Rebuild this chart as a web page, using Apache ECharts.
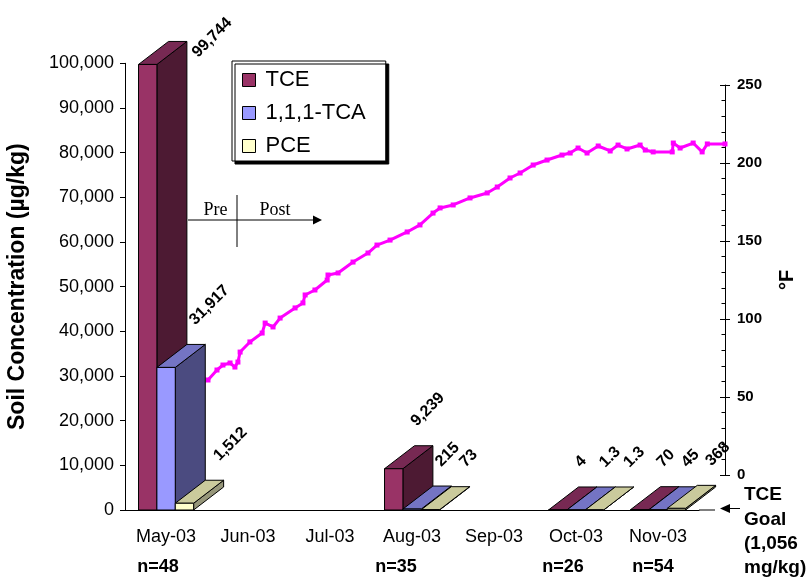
<!DOCTYPE html>
<html><head><meta charset="utf-8">
<script src="https://cdn.jsdelivr.net/npm/echarts@6/dist/echarts.min.js"></script>
<style>html,body{margin:0;padding:0;background:#fff}#c{width:811px;height:578px}</style>
</head><body><div id="c"></div>
<script>
// ---------- data ----------
const categories = ['May-03','Jun-03','Jul-03','Aug-03','Sep-03','Oct-03','Nov-03'];
const seriesNames = ['TCE','1,1,1-TCA','PCE'];
const tceValues = [99744, null, null, 9239, null, 4, 70];
const tcaValues = [31917, null, null, 215, null, 1.3, 45];
const pceValues = [1512, null, null, 73, null, 1.3, 368];
const sampleCounts = ['n=48','n=35','n=26','n=54'];
const goalText = ['TCE','Goal','(1,056','mg/kg)'];
const tempDays = [0,3.3,5.5,8.1,9.9,11.0,11.8,15.4,19.9,21.0,23.9,26.5,32.0,34.9,35.7,39.3,43.8,44.1,47.8,53.3,58.8,62.1,66.9,73.2,77.9,82.7,85.3,90.1,96.3,102.6,106.3,111.0,114.7,119.5,124.6,130.1,133.1,136.0,139.3,143.4,147.8,150.7,154.0,158.8,160.7,163.6,170.6,171.0,173.5,178.3,181.6,183.5,190];
const tempValues = [60.9,67.3,70.5,71.8,69.2,72.4,78.8,85.3,91.0,97.4,94.9,100.6,107.1,110.3,115.4,118.6,125.0,128.2,129.5,136.5,142.3,147.4,150.6,155.8,160.3,167.9,171.2,173.1,177.6,180.8,184.6,190.4,193.6,198.7,201.9,205.1,206.4,209.6,206.4,210.9,207.7,211.5,209.0,211.5,208.3,207.1,207.1,212.8,209.6,212.8,207.1,212.2,212.2];

// ---------- styling ----------
const FONT = '"Liberation Sans", Arial, sans-serif';
const SERIF = '"Liberation Serif", "Times New Roman", serif';
const DX = 30, DY = -23;
const faceColors = [
  {front:'#993366', top:'#772953', side:'#4D1A33'},
  {front:'#9999FF', top:'#7474C4', side:'#4B4B80'},
  {front:'#FFFFCC', top:'#CACA9C', side:'#96967A'}
];
function fmt(v){
  const s = String(v).split('.');
  s[0] = s[0].replace(/\B(?=(\d{3})+(?!\d))/g, ',');
  return s.join('.');
}
function toData(arr){
  const out = [];
  arr.forEach((v,i)=>{ if(v!=null) out.push([i, v]); });
  return out;
}
function makeRender(si){
  return function(params, api){
    const cat = api.value(0), v = api.value(1);
    const base = api.coord([cat, 0]), top = api.coord([cat, v]);
    const band = api.size([1, 0])[0];
    const bw = band * 0.224;
    const x0 = base[0] - band * 0.335 + si * bw, x1 = x0 + bw;
    const yb = base[1], yt = top[1];
    const c = faceColors[si];
    let ax = (x0 + x1) / 2 + 20 + si * 6, ay = yt - 45;
    if (ay < 45) { ax = x1 + DX + 8; ay = 55; }
    return {type:'group', children:[
      {type:'polygon', shape:{points:[[x1,yt],[x1+DX,yt+DY],[x1+DX,yb+DY],[x1,yb]]}, style:{fill:c.side, stroke:'#000', lineWidth:1}},
      {type:'polygon', shape:{points:[[x0,yt],[x1,yt],[x1+DX,yt+DY],[x0+DX,yt+DY]]}, style:{fill:c.top, stroke:'#000', lineWidth:1}},
      {type:'rect', shape:{x:x0, y:yt, width:bw, height:Math.max(yb-yt,0)}, style:{fill:c.front, stroke:'#000', lineWidth:1}},
      {type:'text', x:ax, y:ay, rotation:Math.PI/4, z2:100, style:{text:fmt(v), fill:'#000', font:'bold 16px ' + FONT, align:'left', verticalAlign:'middle'}}
    ]};
  };
}
const barArrays = [tceValues, tcaValues, pceValues];

const nPos = [[158,567],[396,567],[563,567],[653,567]];

const chart = echarts.init(document.getElementById('c'), null, {renderer:'canvas'});
chart.setOption({
  animation:false,
  backgroundColor:'#fff',
  grid:[
    {left:125, right:112, top:63.3, bottom:68, outerBoundsMode:'none'},
    {left:208, right:86, top:85, bottom:103, outerBoundsMode:'none'},
    {left:208, right:86, top:85, bottom:103, outerBoundsMode:'none'}
  ],
  legend:{
    orient:'vertical', left:232, top:61, padding:[8,20,4,10], itemGap:11,
    itemWidth:13, itemHeight:13, icon:'rect', selectedMode:false,
    backgroundColor:'#fff', borderColor:'#000', borderWidth:1,
    shadowColor:'#000', shadowOffsetX:3, shadowOffsetY:3, shadowBlur:0,
    itemStyle:{borderColor:'#000', borderWidth:1},
    textStyle:{fontSize:22, fontFamily:FONT, color:'#000', padding:[0,0,0,5]},
    data:seriesNames
  },
  xAxis:[
    {type:'category', gridIndex:0, data:categories,
     axisLine:{onZero:false, lineStyle:{color:'#000', width:1}}, axisTick:{show:false},
     axisLabel:{color:'#000', fontSize:18, fontFamily:FONT, margin:18, interval:0}},
    {type:'value', gridIndex:1, min:0, max:190, show:false, axisLine:{onZero:false}},
    {type:'value', gridIndex:2, min:0, max:190, show:false, axisLine:{onZero:false}}
  ],
  yAxis:[
    {type:'value', gridIndex:0, min:0, max:100000, interval:10000,
     name:'Soil Concentration (µg/kg)', nameLocation:'middle', nameRotate:90, nameGap:96,
     nameTextStyle:{fontSize:23, fontWeight:'bold', fontFamily:FONT, color:'#000'},
     axisLine:{show:true, onZero:false, lineStyle:{color:'#000'}}, axisTick:{show:true, length:5, lineStyle:{color:'#000'}},
     splitLine:{show:false},
     axisLabel:{color:'#000', fontSize:18, fontFamily:FONT, margin:11, formatter:v=>fmt(v)}},
    {type:'value', gridIndex:1, position:'right', min:0, max:250, interval:50,
     name:'°F', nameLocation:'middle', nameRotate:90, nameGap:52,
     nameTextStyle:{fontSize:20, fontWeight:'bold', fontFamily:FONT, color:'#000'},
     axisLine:{show:true, onZero:false, lineStyle:{color:'#000'}},
     axisTick:{show:true, inside:true, length:5, lineStyle:{color:'#000'}},
     minorTick:{show:true, splitNumber:5, length:3.5, lineStyle:{color:'#000'}},
     splitLine:{show:false}, minorSplitLine:{show:false},
     axisLabel:{color:'#000', fontSize:15, fontWeight:'bold', fontFamily:FONT, margin:12}},
    {type:'value', gridIndex:2, position:'right', min:0, max:250, interval:50,
     axisLine:{show:false, onZero:false}, axisTick:{show:true, length:5, lineStyle:{color:'#000'}},
     axisLabel:{show:false}, splitLine:{show:false}}
  ],
  series:[
    {type:'line', name:'Temperature', xAxisIndex:1, yAxisIndex:1,
     data:tempDays.map((d,i)=>[d, tempValues[i]]),
     symbol:'rect', symbolSize:5, showSymbol:true,
     lineStyle:{color:'#FF00FF', width:3}, itemStyle:{color:'#FF00FF'}, z:1}
  ].concat(barArrays.map((arr, si)=>({
     type:'custom', name:seriesNames[si], xAxisIndex:0, yAxisIndex:0,
     data:toData(arr), renderItem:makeRender(si),
     itemStyle:{color:faceColors[si].front}, z:2+si
  }))),
  graphic:[
    // Pre / Post annotation
    {type:'line', shape:{x1:188, y1:220, x2:316, y2:220}, style:{stroke:'#000', lineWidth:1}},
    {type:'polygon', shape:{points:[[313,215.5],[322,220],[313,224.5]]}, style:{fill:'#000'}},
    {type:'line', shape:{x1:237, y1:195, x2:237, y2:247}, style:{stroke:'#000', lineWidth:1}},
    {type:'text', x:215.5, y:210, style:{text:'Pre', font:'18px ' + SERIF, fill:'#000', align:'center', verticalAlign:'middle'}},
    {type:'text', x:275, y:210, style:{text:'Post', font:'18px ' + SERIF, fill:'#000', align:'center', verticalAlign:'middle'}},
    // axis extension & goal arrow
    {type:'line', shape:{x1:699, y1:510, x2:715, y2:510}, style:{stroke:'#000', lineWidth:1}},
    {type:'polygon', shape:{points:[[720,508.5],[730,504],[730,513]]}, style:{fill:'#000'}},
    {type:'line', shape:{x1:729, y1:508.5, x2:740, y2:508.5}, style:{stroke:'#000', lineWidth:1}},
    {type:'text', x:744, y:483, style:{text:goalText.join('\n'), font:'bold 19px ' + FONT, lineHeight:24.3, fill:'#000', align:'left', verticalAlign:'top'}}
  ].concat(sampleCounts.map((t,i)=>({
    type:'text', x:nPos[i][0], y:nPos[i][1],
    style:{text:t, font:'bold 18px ' + FONT, fill:'#000', align:'center', verticalAlign:'middle'}
  })))
});
</script>
</body></html>
